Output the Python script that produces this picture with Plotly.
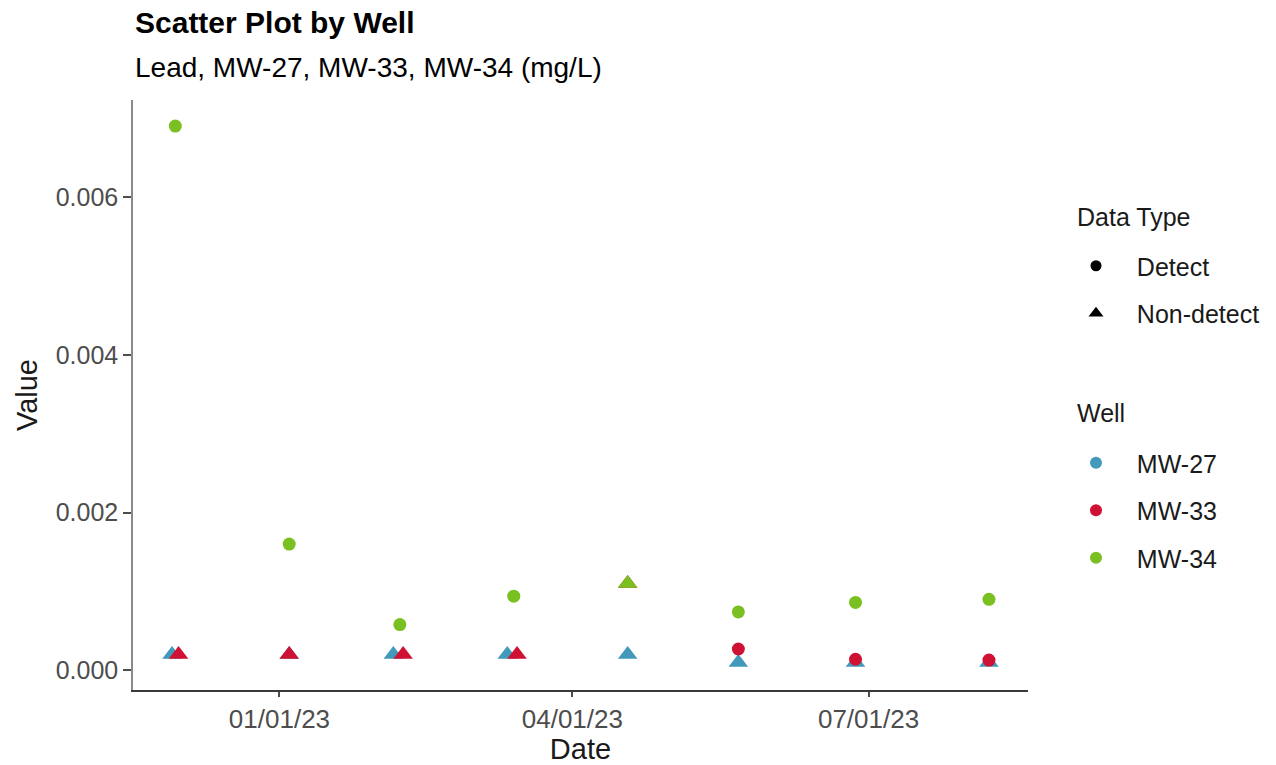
import plotly.graph_objects as go

# Lead results per monitoring well (mg/L); "ND" = non-detect, "D" = detect
mw27_dates = ["2022-11-29", "2023-01-04", "2023-02-05", "2023-03-12",
              "2023-04-18", "2023-05-22", "2023-06-27", "2023-08-07"]
mw27_values = [0.0002, 0.0002, 0.0002, 0.0002, 0.0002, 0.0001, 0.0001, 0.0001]
mw27_types = ["ND", "ND", "ND", "ND", "ND", "ND", "ND", "ND"]

mw33_dates = ["2022-12-01", "2023-01-04", "2023-02-08", "2023-03-15",
              "2023-04-18", "2023-05-22", "2023-06-27", "2023-08-07"]
mw33_values = [0.0002, 0.0002, 0.0002, 0.0002, 0.0011, 0.00027, 0.00014, 0.00013]
mw33_types = ["ND", "ND", "ND", "ND", "ND", "D", "D", "D"]

mw34_dates = ["2022-11-30", "2023-01-04", "2023-02-07", "2023-03-14",
              "2023-04-18", "2023-05-22", "2023-06-27", "2023-08-07"]
mw34_values = [0.0069, 0.0016, 0.00058, 0.00094, 0.0011, 0.00074, 0.00086, 0.0009]
mw34_types = ["D", "D", "D", "D", "ND", "D", "D", "D"]

x_tick_dates = ["2023-01-01", "2023-04-01", "2023-07-01"]
x_tick_labels = ["01/01/23", "04/01/23", "07/01/23"]
y_tick_values = [0.000, 0.002, 0.004, 0.006]
y_tick_labels = ["0.000", "0.002", "0.004", "0.006"]

wells = [
    ("MW-27", mw27_dates, mw27_values, mw27_types, "#4299BA"),
    ("MW-33", mw33_dates, mw33_values, mw33_types, "#CF1233"),
    ("MW-34", mw34_dates, mw34_values, mw34_types, "#79C020"),
]
type_names = {"D": "Detect", "ND": "Non-detect"}
type_symbols = {"D": "circle", "ND": "triangle-up"}
type_sizes = {"D": 13, "ND": 17}

FONT = "Liberation Sans, Arial, Helvetica, sans-serif"
NB = "\u00a0" * 3

# plot panel in pixels (for placing paper-referenced text)
PANEL_L, PANEL_R, PANEL_T, PANEL_B = 133, 1028, 100, 690
PANEL_W, PANEL_H = PANEL_R - PANEL_L, PANEL_B - PANEL_T


def px_x(px):
    return (px - PANEL_L) / PANEL_W


def px_y(py):
    return 1 - (py - PANEL_T) / PANEL_H


fig = go.Figure()

# data points, one trace per well, shape by data type
for name, dates, values, types, color in wells:
    fig.add_trace(go.Scatter(
        x=dates, y=values, mode="markers", name=name,
        marker=dict(color=color, opacity=1,
                    symbol=[type_symbols[t] for t in types],
                    size=[type_sizes[t] for t in types],
                    line=dict(width=0)),
        showlegend=False,
        hovertemplate=name + "<br>%{x|%m/%d/%y}: %{y}<extra></extra>",
    ))

# legend: data type (shape)
for t in ["D", "ND"]:
    fig.add_trace(go.Scatter(
        x=[None], y=[None], mode="markers", name=NB + type_names[t],
        marker=dict(color="black", symbol=type_symbols[t], size=11 if t == "D" else 13),
        legend="legend", legendgroup="type" + t, showlegend=True,
    ))

# legend: well (colour)
for name, dates, values, types, color in wells:
    fig.add_trace(go.Scatter(
        x=[None], y=[None], mode="markers", name=NB + name,
        marker=dict(color=color, symbol="circle", size=12),
        legend="legend2", legendgroup="well" + name, showlegend=True,
    ))

legend_common = dict(
    xref="container", yref="container", xanchor="left", yanchor="top",
    font=dict(family=FONT, size=25, color="#1a1a1a"),
    bgcolor="rgba(0,0,0,0)", tracegroupgap=12, itemclick=False,
)

fig.update_layout(
    width=1276, height=765,
    margin=dict(l=PANEL_L, r=1276 - PANEL_R, t=PANEL_T, b=765 - PANEL_B),
    paper_bgcolor="white", plot_bgcolor="white",
    font=dict(family=FONT, color="#1a1a1a"),
    legend=dict(x=1076 / 1276, y=1 - 243 / 765, **legend_common),
    legend2=dict(x=1076 / 1276, y=1 - 440 / 765, **legend_common),
    xaxis=dict(
        range=["2022-11-17", "2023-08-19"], type="date", automargin=False,
        tickvals=x_tick_dates, ticktext=x_tick_labels,
        showgrid=False, zeroline=False,
        showline=True, linecolor="#3a3a3a", linewidth=1.5,
        ticks="outside", ticklen=5, tickwidth=1.5, tickcolor="#4d4d4d",
        tickfont=dict(family=FONT, size=26, color="#4d4d4d"),
        title=dict(text="Date", font=dict(family=FONT, size=29, color="#1a1a1a"), standoff=12),
    ),
    yaxis=dict(
        range=[-0.00025, 0.00723], automargin=False,
        tickvals=y_tick_values, ticktext=y_tick_labels,
        showgrid=False, zeroline=False,
        showline=True, linecolor="#8a8a8a", linewidth=1.5,
        ticks="outside", ticklen=8, tickwidth=1.5, tickcolor="#4d4d4d",
        tickfont=dict(family=FONT, size=25, color="#4d4d4d"),
        title=dict(text="Value", font=dict(family=FONT, size=29, color="#1a1a1a"), standoff=10),
    ),
    annotations=[
        dict(text="<b>Scatter Plot by Well</b>", xref="paper", yref="paper",
             x=0, y=px_y(22), xanchor="left", yanchor="middle",
             showarrow=False, font=dict(family=FONT, size=30, color="black")),
        dict(text="Lead, MW-27, MW-33, MW-34 (mg/L)", xref="paper", yref="paper",
             x=0, y=px_y(67), xanchor="left", yanchor="middle",
             showarrow=False, font=dict(family=FONT, size=28, color="black")),
        dict(text="Data Type", xref="paper", yref="paper",
             x=px_x(1075), y=px_y(217), xanchor="left", yanchor="middle",
             showarrow=False, font=dict(family=FONT, size=25, color="#1a1a1a")),
        dict(text="Well", xref="paper", yref="paper",
             x=px_x(1075), y=px_y(413), xanchor="left", yanchor="middle",
             showarrow=False, font=dict(family=FONT, size=25, color="#1a1a1a")),
    ],
)

fig.write_html("out.html")
